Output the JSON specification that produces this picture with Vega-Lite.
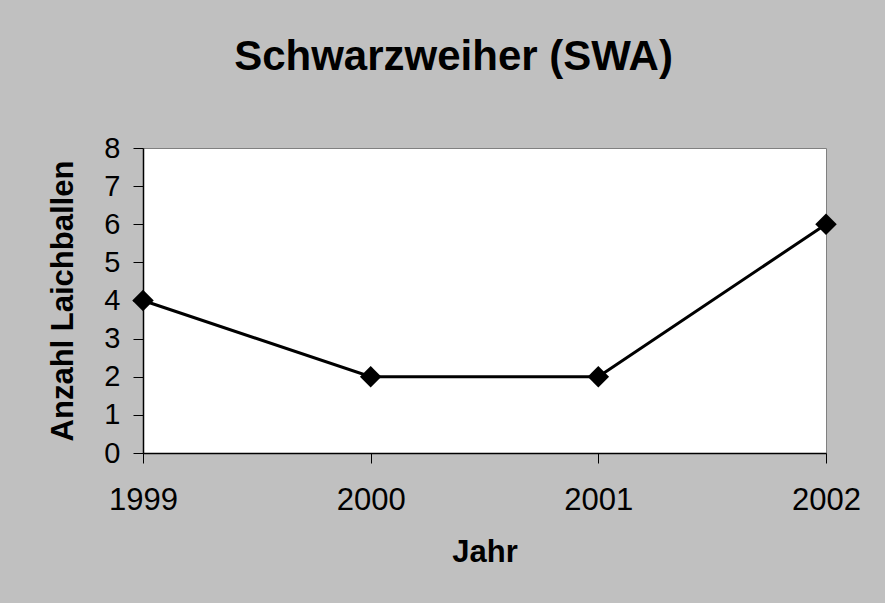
{
  "$schema": "https://vega.github.io/schema/vega-lite/v6.json",
  "width": 683,
  "height": 305,
  "autosize": {"type": "none"},
  "padding": {"left": 143, "top": 148, "right": 59, "bottom": 150},
  "background": "#C0C0C0",
  "title": {
    "text": "Schwarzweiher (SWA)",
    "font": "Liberation Sans",
    "fontSize": 42,
    "fontWeight": "bold",
    "color": "#000000",
    "frame": "group",
    "anchor": "middle",
    "baseline": "alphabetic",
    "offset": 22,
    "dx": -31
  },
  "data": {
    "values": [
      {"Jahr": "1999", "Anzahl": 4},
      {"Jahr": "2000", "Anzahl": 2},
      {"Jahr": "2001", "Anzahl": 2},
      {"Jahr": "2002", "Anzahl": 6}
    ]
  },
  "layer": [
    {
      "mark": {"type": "line", "color": "#000000", "strokeWidth": 3},
      "encoding": {
        "x": {"field": "Jahr", "type": "ordinal"},
        "y": {"field": "Anzahl", "type": "quantitative"}
      }
    },
    {
      "mark": {"type": "point", "shape": "diamond", "filled": true, "color": "#000000", "size": 460, "opacity": 1},
      "encoding": {
        "x": {"field": "Jahr", "type": "ordinal"},
        "y": {"field": "Anzahl", "type": "quantitative"}
      }
    }
  ],
  "encoding": {
    "x": {
      "field": "Jahr",
      "type": "ordinal",
      "scale": {"type": "point", "padding": 0},
      "axis": {
        "title": "Jahr",
        "labelAngle": 0,
        "labelFontSize": 31,
        "labelPadding": 22,
        "titleFontSize": 31,
        "titlePadding": 22,
        "tickSize": 10
      }
    },
    "y": {
      "field": "Anzahl",
      "type": "quantitative",
      "scale": {"domain": [0, 8]},
      "axis": {
        "title": "Anzahl Laichballen",
        "values": [0, 1, 2, 3, 4, 5, 6, 7, 8],
        "labelFontSize": 29,
        "labelPadding": 13,
        "titleFontSize": 31,
        "titlePadding": 24,
        "tickSize": 10,
        "grid": false
      }
    }
  },
  "config": {
    "view": {"fill": "#FFFFFF", "stroke": "#808080", "strokeWidth": 1},
    "axis": {
      "labelFont": "Liberation Sans",
      "titleFont": "Liberation Sans",
      "labelColor": "#000000",
      "titleColor": "#000000",
      "titleFontWeight": "bold",
      "domainColor": "#000000",
      "domainWidth": 1.5,
      "tickColor": "#000000",
      "tickWidth": 1,
      "grid": false,
      "labelFlush": false,
      "labelOverlap": false
    }
  }
}
